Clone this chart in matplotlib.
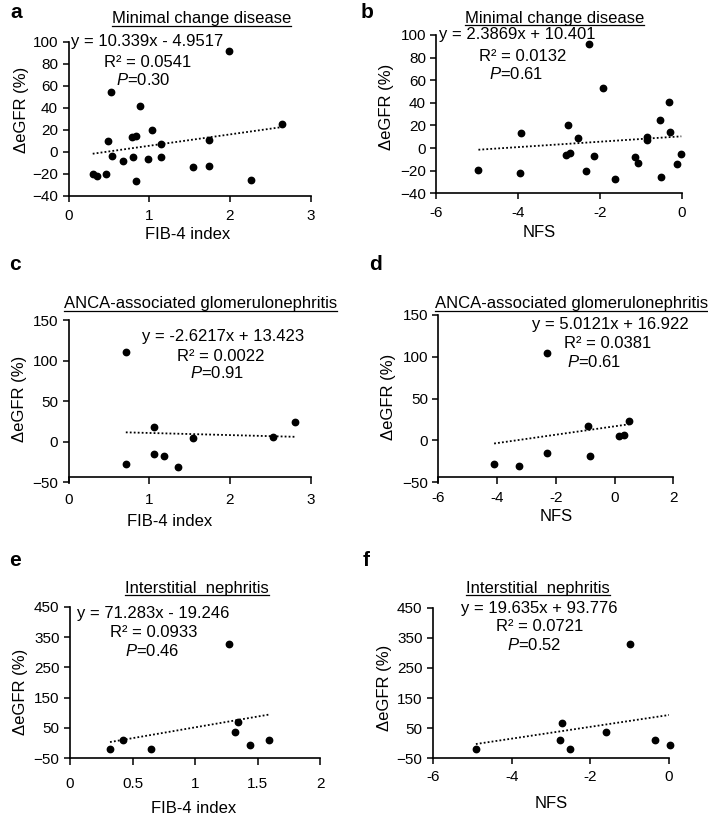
import matplotlib.pyplot as plt
from matplotlib.lines import Line2D

plt.rcParams['font.family'] = ['Liberation Sans', 'DejaVu Sans']
plt.rcParams['mathtext.fontset'] = 'custom'
plt.rcParams['mathtext.rm'] = 'Liberation Sans'
plt.rcParams['mathtext.it'] = 'Liberation Sans:italic'

# --- data ---
# Minimal change disease
mcd_fib4 = [0.30, 0.35, 0.46, 0.49, 0.53, 0.54, 0.67, 0.79, 0.80, 0.84, 0.84,
            0.89, 0.99, 1.04, 1.15, 1.15, 1.54, 1.74, 1.74, 1.99, 2.26, 2.64]
mcd_fib4_egfr = [-20, -22, -20, 10, 54, -4, -8, 13, -5, 14, -27,
                 42, -7, 20, 7, -5, -14, 11, -13, 92, -26, 25]
mcd_nfs = [-4.97, -3.92, -3.95, -2.77, -2.82, -2.73, -2.54, -2.34, -2.27, -2.14, -1.92,
           -1.62, -1.15, -1.06, -0.86, -0.84, -0.53, -0.51, -0.30, -0.28, -0.12, -0.01]
mcd_nfs_egfr = [-19, 13, -22, 20, -6, -4, 9, -20, 92, -7, 53,
                -27, -8, -13, 10, 7, 25, -26, 41, 14, -14, -5]

# ANCA-associated glomerulonephritis
anca_fib4 = [0.71, 0.71, 1.06, 1.06, 1.18, 1.36, 1.54, 2.53, 2.81]
anca_fib4_egfr = [110, -27, 18, -15, -18, -31, 5, 6, 24]
anca_nfs = [-4.10, -3.26, -2.31, -2.29, -0.90, -0.85, 0.15, 0.32, 0.49]
anca_nfs_egfr = [-28, -30, 105, -15, 17, -18, 5, 6, 23]

# Interstitial nephritis
in_fib4 = [0.32, 0.42, 0.65, 1.27, 1.32, 1.34, 1.44, 1.59]
in_fib4_egfr = [-18, 9, -18, 328, 37, 69, -7, 9]
in_nfs = [-4.91, -2.78, -2.72, -2.52, -1.61, -0.98, -0.36, 0.03]
in_nfs_egfr = [-18, 10, 68, -18, 37, 331, 10, -7]

# trendline coefficients and labels as printed
slopes = [10.339, 2.3869, -2.6217, 5.0121, 71.283, 19.635]
intercepts = [-4.9517, 10.401, 13.423, 16.922, -19.246, 93.776]
eq_labels = ['y = 10.339x - 4.9517', 'y = 2.3869x + 10.401', 'y = -2.6217x + 13.423',
             'y = 5.0121x + 16.922', 'y = 71.283x - 19.246', 'y = 19.635x + 93.776']
r2_labels = ['R² = 0.0541', 'R² = 0.0132', 'R² = 0.0022',
             'R² = 0.0381', 'R² = 0.0933', 'R² = 0.0721']
p_labels = ['0.30', '0.61', '0.91', '0.61', '0.46', '0.52']

titles = ['Minimal change disease', 'Minimal change disease',
          'ANCA-associated glomerulonephritis', 'ANCA-associated glomerulonephritis',
          'Interstitial  nephritis', 'Interstitial  nephritis']
letters = ['a', 'b', 'c', 'd', 'e', 'f']
xlabels = ['FIB-4 index', 'NFS', 'FIB-4 index', 'NFS', 'FIB-4 index', 'NFS']
xs = [mcd_fib4, mcd_nfs, anca_fib4, anca_nfs, in_fib4, in_nfs]
ys = [mcd_fib4_egfr, mcd_nfs_egfr, anca_fib4_egfr, anca_nfs_egfr, in_fib4_egfr, in_nfs_egfr]
xticks = [[0, 1, 2, 3], [-6, -4, -2, 0], [0, 1, 2, 3],
          [-6, -4, -2, 0, 2], [0, 0.5, 1, 1.5, 2], [-6, -4, -2, 0]]
xticklabels = [['0', '1', '2', '3'], ['-6', '-4', '-2', '0'], ['0', '1', '2', '3'],
               ['-6', '-4', '-2', '0', '2'], ['0', '0.5', '1', '1.5', '2'], ['-6', '-4', '-2', '0']]
yticks = [list(range(-40, 101, 20)), list(range(-40, 101, 20)),
          list(range(-50, 151, 50)), list(range(-50, 151, 50)),
          list(range(-50, 451, 100)), list(range(-50, 451, 100))]

# --- layout (pixels in a 708x815 canvas) ---
W, H = 708, 815
# left, top, right, bottom of each plot area
rects = [(68.5, 41.7, 310.7, 195.7), (436.3, 35, 681.7, 193.3),
         (68.5, 320, 310.7, 482.3), (438.3, 315, 673.3, 482.3),
         (70, 606.7, 320, 758.3), (433, 607.7, 669, 758.3)]
# text positions in axes fraction: (x, y) for eq, r2, p
eq_pos = [(0.325, 1.0), (0.330, 1.0), (0.638, 0.901), (0.731, 0.946), (0.333, 0.956), (0.452, 0.996)]
r2_pos = [(0.326, 0.866), (0.351, 0.863), (0.630, 0.778), (0.719, 0.831), (0.333, 0.831), (0.452, 0.874)]
p_pos = [(0.307, 0.751), (0.325, 0.754), (0.613, 0.672), (0.665, 0.721), (0.330, 0.708), (0.430, 0.752)]
ylab_pos = [(-0.195, 0.556), (-0.201, 0.547), (-0.204, 0.517), (-0.21, 0.512), (-0.197, 0.44), (-0.205, 0.465)]
xlab_pos = [(0.49, -0.255), (0.42, -0.25), (0.417, -0.243), (0.5, -0.206), (0.493, -0.33), (0.5, -0.30)]
title_pos = [(201.7, 23.3), (554.3, 22.7), (200.5, 308.3), (572, 308.3), (197, 592.7), (538, 592.7)]
letter_pos = [(16, 12), (367, 13), (15, 265), (376, 265), (15, 561), (366, 560)]
xaxis_at = [None, None, -44, -44, None, None]
xtick_len = [4, 4, 5, 5, 4.8, 4]
xtick_pad = [5.5, 5.5, 6.0, 4.7, 9.0, 4.5]

fig = plt.figure(figsize=(W / 100, H / 100), dpi=100)

for i in range(6):
    l, t, r, b = rects[i]
    ax = fig.add_axes([l / W, 1 - b / H, (r - l) / W, (b - t) / H])
    ax.plot(xs[i], ys[i], 'o', color='black', markersize=4.6, zorder=3, clip_on=False)

    x0, x1 = min(xs[i]), max(xs[i])
    ax.plot([x0, x1], [slopes[i] * x0 + intercepts[i], slopes[i] * x1 + intercepts[i]],
            color='black', lw=1.3, dashes=(1, 1.2), zorder=2)

    ax.set_xlim(xticks[i][0], xticks[i][-1])
    ax.set_ylim(yticks[i][0], yticks[i][-1])
    ax.set_xticks(xticks[i])
    ax.set_xticklabels(xticklabels[i])
    ax.set_yticks(yticks[i])
    ax.tick_params(axis='y', direction='out', length=4, width=1.1, labelsize=11, pad=3.5, color='black')
    ax.tick_params(axis='x', direction='out', length=xtick_len[i], width=1.1, labelsize=11,
                   pad=xtick_pad[i], color='black')
    for s in ['top', 'right']:
        ax.spines[s].set_visible(False)
    for s in ['left', 'bottom']:
        ax.spines[s].set_linewidth(1.2)
    if xaxis_at[i] is not None:
        ax.spines['bottom'].set_position(('data', xaxis_at[i]))

    ax.set_ylabel('ΔeGFR (%)', fontsize=12, va='center')
    ax.yaxis.set_label_coords(*ylab_pos[i])
    ax.set_xlabel(xlabels[i], fontsize=12, va='center')
    ax.xaxis.set_label_coords(*xlab_pos[i])

    ax.text(*eq_pos[i], eq_labels[i], transform=ax.transAxes, ha='center', va='center', fontsize=12)
    ax.text(*r2_pos[i], r2_labels[i], transform=ax.transAxes, ha='center', va='center', fontsize=12)
    ax.text(*p_pos[i], '$P$=' + p_labels[i], transform=ax.transAxes, ha='center', va='center', fontsize=12)

    fig.text(letter_pos[i][0] / W, 1 - letter_pos[i][1] / H, letters[i], fontsize=15,
             fontweight='bold', ha='center', va='center')

# underlined panel titles
title_texts = []
for i in range(6):
    tx, ty = title_pos[i]
    title_texts.append(fig.text(tx / W, 1 - ty / H, titles[i], fontsize=12, ha='center', va='baseline'))

fig.canvas.draw()
for i, t in enumerate(title_texts):
    bb = t.get_window_extent()
    yline = 1 - (title_pos[i][1] + 2.2) / H
    fig.add_artist(Line2D([bb.x0 / W, bb.x1 / W], [yline, yline], color='black', lw=0.9,
                          transform=fig.transFigure))

fig.savefig('out.png', dpi=100)
